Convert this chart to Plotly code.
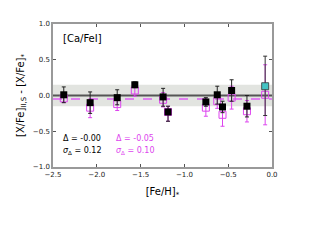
import plotly.graph_objects as go

feh = [-2.377, -2.076, -1.767, -1.566, -1.243, -1.187, -0.755, -0.625, -0.565, -0.461, -0.286]
d_black = [0.01, -0.10, -0.03, 0.15, -0.02, -0.23, -0.09, 0.01, -0.16, 0.07, -0.15]
e_black_up = [0.11, 0.15, 0.11, 0.04, 0.12, 0.08, 0.06, 0.12, 0.08, 0.15, 0.15]
e_black_dn = [0.11, 0.15, 0.10, 0.04, 0.13, 0.13, 0.06, 0.13, 0.08, 0.15, 0.15]

d_mag = [-0.04, -0.17, -0.12, 0.07, -0.06, -0.23, -0.17, -0.08, -0.27, -0.03, -0.22]
e_mag_up = [0.06, 0.12, 0.09, 0.10, 0.10, 0.08, 0.12, 0.10, 0.12, 0.16, 0.15]
e_mag_dn = [0.06, 0.14, 0.09, 0.08, 0.10, 0.13, 0.12, 0.10, 0.16, 0.16, 0.15]

feh_sun = [-0.078]
d_sun_black = [0.13]
e_sun_black_up = [0.42]
e_sun_black_dn = [0.41]
d_sun_mag = [0.01]
e_sun_mag = [0.42]

mean_black, sig_black = -0.00, 0.12
mean_mag, sig_mag = -0.05, 0.10
band = 0.15

MAG = "#dd44ee"
fig = go.Figure()

fig.add_shape(type="rect", xref="paper", yref="y", x0=0, x1=1, y0=-band, y1=band,
              fillcolor="#e2e4e0", line_width=0, layer="below")
fig.add_shape(type="line", xref="paper", yref="y", x0=0, x1=1, y0=mean_black, y1=mean_black,
              line=dict(color="#555555", width=2), layer="below")
fig.add_shape(type="line", xref="paper", yref="y", x0=0, x1=1, y0=mean_mag, y1=mean_mag,
              line=dict(color="#e080f0", width=2, dash="dash"), layer="below")

fig.add_trace(go.Scatter(x=feh + feh_sun, y=d_mag + d_sun_mag, mode="markers",
    marker=dict(symbol="square-open", size=7, color=MAG, line=dict(width=1)),
    error_y=dict(type="data", array=e_mag_up + e_sun_mag, arrayminus=e_mag_dn + e_sun_mag,
                 color=MAG, thickness=1, width=2)))
fig.add_trace(go.Scatter(x=feh, y=d_black, mode="markers",
    marker=dict(symbol="square", size=7, color="black"),
    error_y=dict(type="data", array=e_black_up, arrayminus=e_black_dn,
                 color="#222222", thickness=1, width=2)))
fig.add_trace(go.Scatter(x=feh_sun, y=d_sun_black, mode="markers",
    marker=dict(symbol="square", size=7, color="#44c4c4", line=dict(color="#333333", width=0.8)),
    error_y=dict(type="data", array=e_sun_black_up, arrayminus=e_sun_black_dn,
                 color="#333333", thickness=1, width=2)))

fnt = "DejaVu Sans"
fig.add_annotation(x=0.035, y=0.95, xref="paper", yref="paper", text="[Ca/FeI]", showarrow=False,
                   xanchor="left", yanchor="top", font=dict(family=fnt, size=10, color="black"))
fig.add_annotation(x=0.035, y=0.196, xref="paper", yref="paper", text=f"Δ = -{abs(mean_black):.2f}",
                   showarrow=False, xanchor="left", yanchor="middle", font=dict(family=fnt, size=8, color="black"))
fig.add_annotation(x=0.035, y=0.115, xref="paper", yref="paper",
                   text=f"<i>σ</i><sub>Δ</sub> = {sig_black:.2f}",
                   showarrow=False, xanchor="left", yanchor="middle", font=dict(family=fnt, size=8, color="black"))
fig.add_annotation(x=0.28, y=0.196, xref="paper", yref="paper", text=f"Δ = {mean_mag:.2f}",
                   showarrow=False, xanchor="left", yanchor="middle", font=dict(family=fnt, size=8, color=MAG))
fig.add_annotation(x=0.28, y=0.115, xref="paper", yref="paper",
                   text=f"<i>σ</i><sub>Δ</sub> = {sig_mag:.2f}",
                   showarrow=False, xanchor="left", yanchor="middle", font=dict(family=fnt, size=8, color=MAG))

axcommon = dict(showgrid=False, zeroline=False, showline=True, linecolor="#999999", linewidth=1.5,
                mirror="allticks", ticks="inside", ticklen=3, tickcolor="#555555",
                tickfont=dict(family=fnt, size=7, color="#222222"))
fig.update_xaxes(range=[-2.5, 0], dtick=0.5, tickformat=".1f",
                 title=dict(text="[Fe/H]<sub>*</sub>", font=dict(family=fnt, size=10, color="black"), standoff=10),
                 **axcommon)
fig.update_yaxes(range=[-1, 1], dtick=0.5, tickformat=".1f",
                 title=dict(text="[X/Fe]<sub>II,S</sub> - [X/Fe]<sub>*</sub>", font=dict(family=fnt, size=10, color="black"), standoff=6),
                 **axcommon)
fig.update_layout(width=312, height=232, margin=dict(l=40, r=48, t=16, b=73),
                  paper_bgcolor="white", plot_bgcolor="white", showlegend=False)
fig.write_html("out.html")
